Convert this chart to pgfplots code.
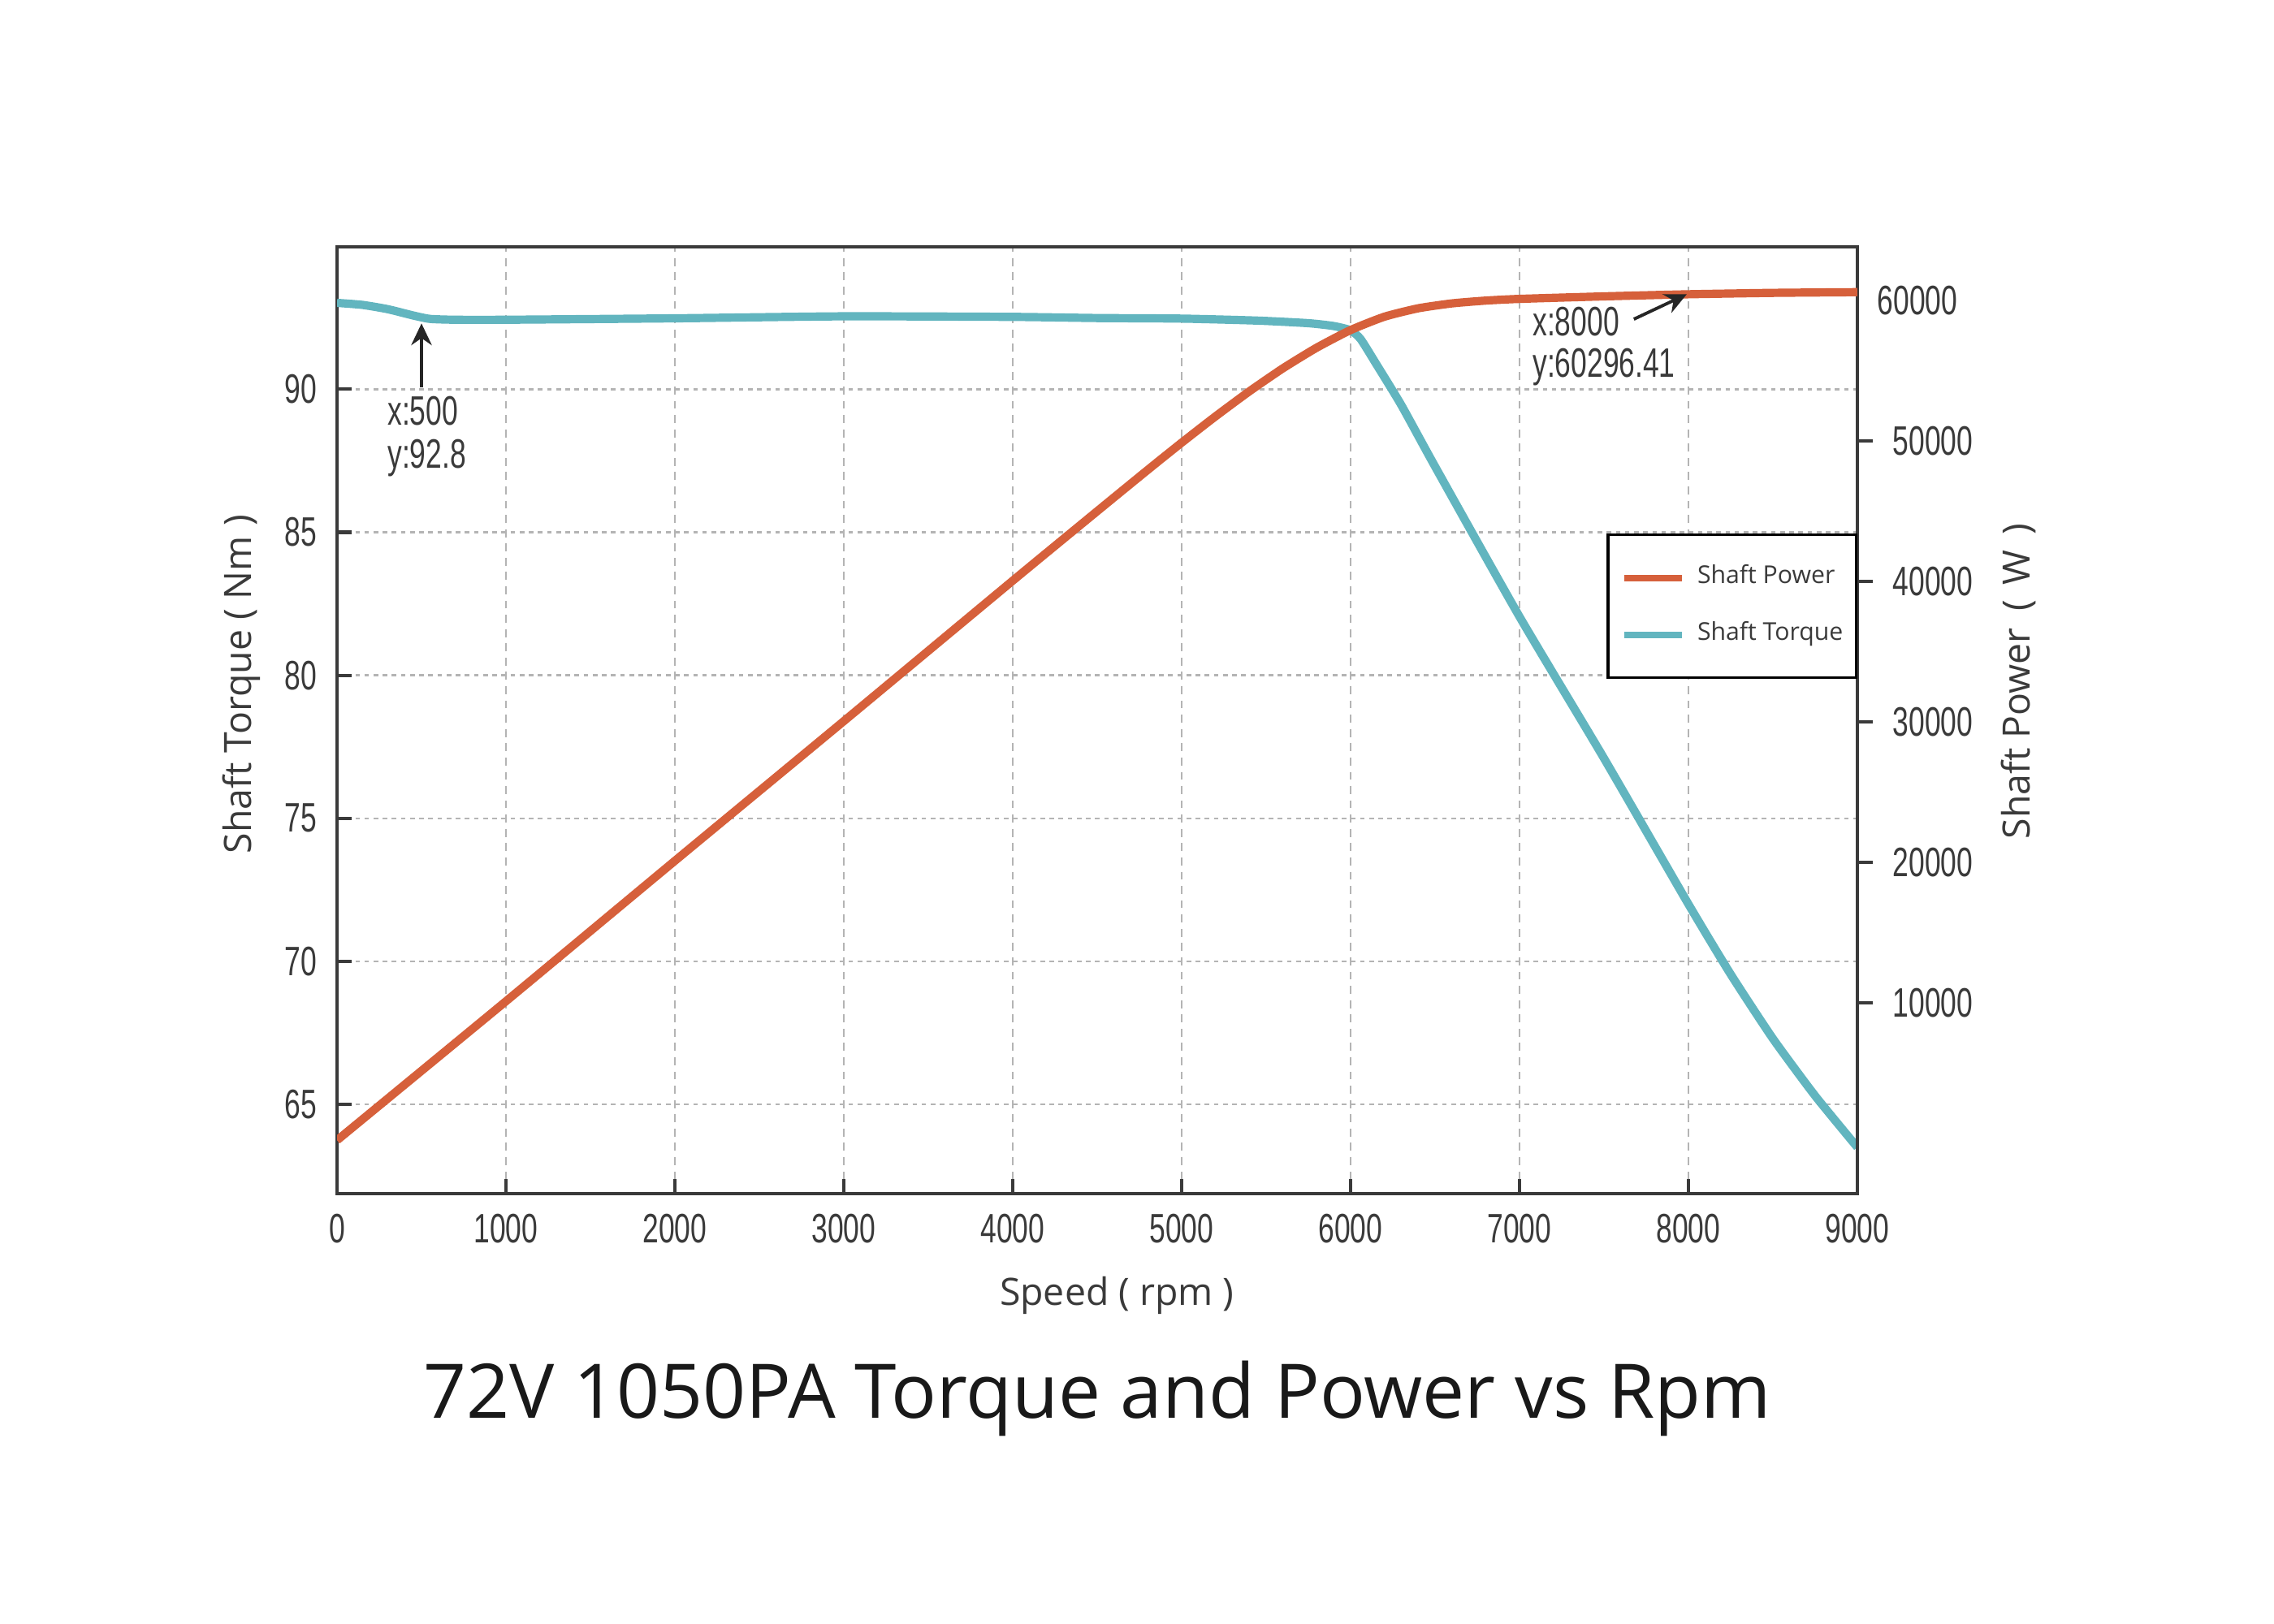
\documentclass[border=0pt]{standalone}
\usepackage{fontspec}
\setmainfont{Open Sans}
\newfontfamily\condfont[FakeStretch=0.7]{Liberation Sans}
\usepackage{pgfplots}
\pgfplotsset{compat=1.18}
\usetikzlibrary{arrows.meta}
\definecolor{torquec}{HTML}{62B5BF}
\definecolor{powerc}{HTML}{D6603B}
\definecolor{axgray}{HTML}{3A3A3A}
\definecolor{gridgray}{HTML}{B4B4B4}
\newcommand\tfont{\condfont\fontsize{7.2pt}{8.6pt}\selectfont}
\newcommand\lfont{\fontsize{6.6pt}{8pt}\selectfont}
\newcommand\legfont{\fontsize{4.3pt}{5pt}\selectfont}
\newcommand\titfont{\fontsize{13.2pt}{15pt}\selectfont}
\pgfplotsset{
  /pgf/number format/assume math mode=true,
  /pgf/number format/1000 sep={},
}
\pgfplotstableread{
x y
0 93.02
150 92.95
300 92.80
450 92.58
550 92.46
700 92.43
1000 92.43
2000 92.48
3000 92.55
4000 92.53
4500 92.49
5000 92.47
5450 92.40
5750 92.31
5900 92.21
6000 92.06
6060 91.75
6150 90.90
6300 89.45
6500 87.30
7000 82.05
7500 77.10
8000 72.00
8250 69.55
8500 67.30
8750 65.30
9000 63.50
}\torquedata
\pgfplotstableread{
x y
0 200
1000 10100
2000 20100
3000 30050
4000 40050
4500 45000
4800 47950
5000 49880
5200 51750
5400 53530
5600 55180
5800 56650
6000 57900
6200 58850
6400 59450
6600 59800
6800 60000
7000 60120
7500 60300
8000 60450
8500 60550
9000 60600
}\powerdata
\begin{document}
\begin{tikzpicture}
\path[use as bounding box] (0,0) rectangle (14cm,10cm);
\begin{axis}[
  at={(2.075cm,2.65cm)}, anchor=south west,
  scale only axis, width=9.36cm, height=5.83cm,
  xmin=0, xmax=9000, ymin=61.88, ymax=94.98,
  xtick={0,1000,...,9000}, ytick={65,70,...,90},
  xtick pos=bottom, ytick pos=left,
  tick align=inside, major tick length=0.09cm,
  tick style={axgray, line width=0.6pt},
  axis line style={axgray, line width=0.6pt},
  ticklabel style={font=\tfont, text=axgray},
  xmajorgrids, ymajorgrids,
  major x grid style={gridgray, line width=0.35pt, dash pattern=on 1.4pt off 1.1pt},
  major y grid style={gridgray, line width=0.35pt, dash pattern=on 0.8pt off 0.8pt},
  xlabel={Speed ( rpm )},
  xlabel style={at={(axis description cs:0.513,-0.118)}, anchor=base, font=\lfont, text=axgray},
  ylabel={Shaft Torque ( Nm )},
  ylabel style={at={(axis description cs:-0.063,0.538)}, anchor=center, font=\lfont, text=axgray},
  title={72V 1050PA Torque and Power vs Rpm},
  title style={at={(axis description cs:0.5,-0.273)}, anchor=base, font=\titfont, text=black!90},
]
\addplot[torquec, line width=1.45pt, line join=round, smooth, tension=0.35] table[x=x,y=y] {\torquedata};
\draw[-{Stealth[length=3.8pt,width=3.6pt]}, line width=0.55pt, black!85] (axis cs:500,90.07) -- (axis cs:500,92.30);
\node[anchor=base west, inner sep=0pt, font=\tfont, text=axgray] at (axis cs:293,88.74) {x:500};
\node[anchor=base west, inner sep=0pt, font=\tfont, text=axgray] at (axis cs:293,87.23) {y:92.8};
\end{axis}
\begin{axis}[
  at={(2.075cm,2.65cm)}, anchor=south west,
  scale only axis, width=9.36cm, height=5.83cm,
  xmin=0, xmax=9000, ymin=-3600, ymax=63830,
  hide x axis, axis y line*=right, ytick pos=right,
  ytick={10000,20000,...,50000},
  extra y ticks={60000}, extra y tick style={major tick length=0pt},
  scaled y ticks=false,
  tick align=outside, major tick length=0.095cm,
  tick style={axgray, line width=0.6pt},
  axis line style={axgray, line width=0.6pt},
  ticklabel style={font=\tfont, text=axgray},
  ylabel={Shaft Power\hspace{0.45em}(\hspace{0.4em}W\hspace{0.4em})},
  ylabel style={at={(axis description cs:1.106,0.541)}, anchor=center, font=\lfont, text=axgray},
  legend style={at={(axis description cs:1,0.697)}, anchor=north east, draw=black, line width=0.45pt, fill=white,
    font=\legfont, inner xsep=0.08cm, inner ysep=0.09cm, row sep=0pt, column sep=0.075cm,
    nodes={inner sep=0pt, minimum height=0.35cm, text=axgray}},
  legend cell align=left,
  legend image code/.code={\draw[#1, line width=1.15pt] (0cm,0cm) -- (0.355cm,0cm);},
]
\addplot[powerc, line width=1.45pt, line join=round, smooth, tension=0.35] table[x=x,y=y] {\powerdata};
\addlegendentry{Shaft Power}
\addlegendimage{torquec, line width=1.45pt}
\addlegendentry{Shaft Torque}
\draw[-{Stealth[length=3.8pt,width=3.6pt]}, line width=0.55pt, black!85] (axis cs:7677,58676) -- (axis cs:7990,60450);
\node[anchor=base west, inner sep=0pt, font=\tfont, text=axgray] at (axis cs:7072,57519) {x:8000};
\node[anchor=base west, inner sep=0pt, font=\tfont, text=axgray] at (axis cs:7072,54546) {y:60296.41};
\end{axis}
\end{tikzpicture}
\end{document}
